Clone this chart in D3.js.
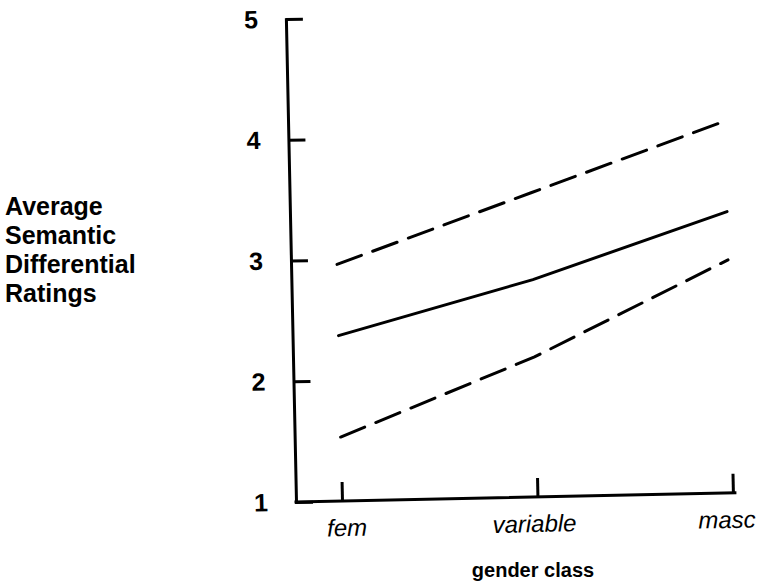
<!DOCTYPE html>
<html>
<head>
<meta charset="utf-8">
<script src="https://cdn.jsdelivr.net/npm/d3@7"></script>
<style>
  html, body { margin: 0; padding: 0; background: #fff; }
  svg { display: block; }
  text { font-family: "Liberation Sans", Arial, Helvetica, sans-serif; fill: #000; }
</style>
</head>
<body>
<svg id="chart" width="758" height="581"></svg>
<script>
// ---- data ----
const categories = ["fem", "variable", "masc"];
const upperValues = [2.96, 3.52, 4.08];   // dashed, upper
const meanValues  = [2.37, 2.80, 3.33];   // solid, middle
const lowerValues = [1.53, 2.16, 2.93];   // dashed, lower
const yTicks = [1, 2, 3, 4, 5];
const yTitleLines = ["Average", "Semantic", "Differential", "Ratings"];
const xTitle = "gender class";

// ---- layout ----
const svg = d3.select("#chart");
const originX = 296, originY = 502;

const x = d3.scalePoint().domain(categories).range([342, 733]);
const y = d3.scaleLinear().domain([1, 5]).range([originY, 19]);

// the scanned chart is slightly rotated
const g = svg.append("g").attr("transform", `rotate(-1.2, ${originX}, ${originY})`);

// y axis (ticks pointing inward, labels on the left)
const yAxis = d3.axisLeft(y).tickValues(yTicks).tickFormat(d3.format("d"))
  .tickSizeInner(-17).tickSizeOuter(0).tickPadding(28);
const yG = g.append("g").attr("transform", `translate(${originX},0)`).call(yAxis);
yG.select(".domain").attr("stroke", "#000").attr("stroke-width", 3).attr("stroke-linecap", "square");
yG.selectAll(".tick line").attr("stroke", "#000").attr("stroke-width", 3);
yG.selectAll(".tick text").attr("font-size", 25).attr("font-weight", "bold")
  .style("font-family", '"Liberation Sans", Arial, sans-serif').attr("fill", "#000");

// x axis line
g.append("line")
  .attr("x1", originX).attr("y1", originY)
  .attr("x2", x.range()[1] + 2).attr("y2", originY)
  .attr("stroke", "#000").attr("stroke-width", 3).attr("stroke-linecap", "square");

const xAxis = d3.axisBottom(x).tickSizeInner(-19).tickSizeOuter(0).tickPadding(18);
const xG = g.append("g").attr("transform", `translate(0,${originY})`).call(xAxis);
xG.select(".domain").remove();
xG.selectAll(".tick line").attr("stroke", "#000").attr("stroke-width", 3);
xG.selectAll(".tick text").attr("font-size", 24).attr("font-style", "italic")
  .style("font-family", '"Liberation Sans", Arial, sans-serif').attr("fill", "#000")
  .attr("dx", (d, i) => [4, -4, -7][i]);

// lines
const line = d3.line().x((d, i) => x(categories[i])).y(d => y(d));
const series = [
  { values: upperValues, dash: "26,12" },
  { values: meanValues,  dash: null },
  { values: lowerValues, dash: "26,12" }
];
g.selectAll("path.series").data(series).join("path")
  .attr("class", "series")
  .attr("d", d => line(d.values))
  .attr("fill", "none")
  .attr("stroke", "#000")
  .attr("stroke-width", 3)
  .attr("stroke-linecap", "round")
  .attr("stroke-dasharray", d => d.dash);

// y title
const yt = svg.append("text").attr("x", 5).attr("y", 215)
  .attr("font-size", 25).attr("font-weight", "bold");
yt.selectAll("tspan").data(yTitleLines).join("tspan")
  .attr("x", 5).attr("y", (d, i) => 215 + i * 29).text(d => d);

// x title
svg.append("text").attr("x", 533).attr("y", 577)
  .attr("text-anchor", "middle").attr("font-size", 20).attr("font-weight", "bold")
  .text(xTitle);
</script>
</body>
</html>
